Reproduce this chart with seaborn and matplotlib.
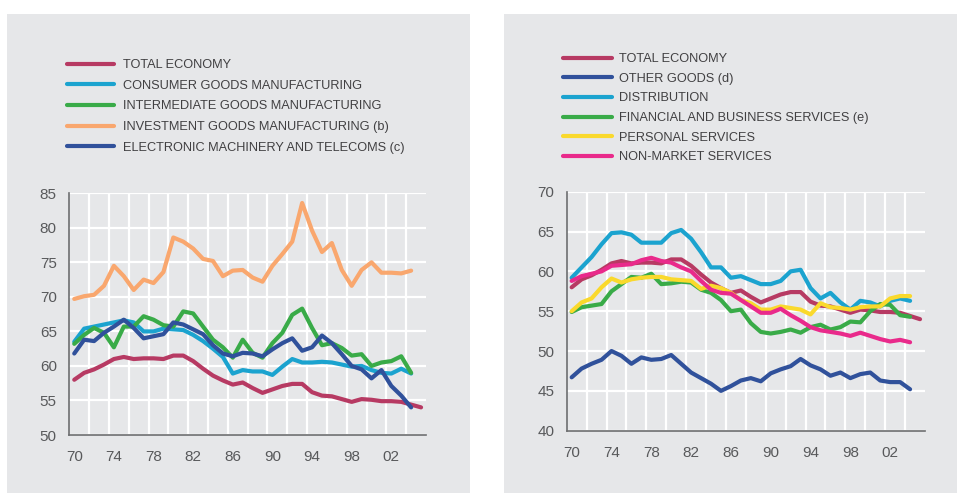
"""
Wage share by sector, 1970-2005: two panels
"""

import numpy as np
import pandas as pd
import matplotlib
matplotlib.use('Agg')
import matplotlib.pyplot as plt
from matplotlib.patches import Rectangle
from matplotlib.ticker import FixedLocator
import seaborn as sns

# years
years_long = list(range(1970, 2006))   # total economy runs to 2005
years = list(range(1970, 2005))

# shared series
total_economy = [58.0, 59.0, 59.5, 60.2, 61.0, 61.3, 61.0, 61.1, 61.1, 61.0,
                 61.5, 61.5, 60.7, 59.6, 58.6, 57.9, 57.3, 57.6, 56.8, 56.1,
                 56.6, 57.1, 57.4, 57.4, 56.2, 55.7, 55.6, 55.2, 54.8, 55.2,
                 55.1, 54.9, 54.9, 54.8, 54.4, 54.0]

# left panel
consumer_goods = [63.5, 65.4, 65.7, 66.0, 66.3, 66.6, 66.3, 65.0, 65.0, 65.4,
                  65.3, 65.2, 64.5, 63.6, 62.5, 61.3, 58.9, 59.4, 59.2, 59.2,
                  58.7, 59.9, 61.0, 60.5, 60.5, 60.6, 60.5, 60.2, 59.9, 60.0,
                  59.4, 59.0, 58.9, 59.6, 58.9]
intermediate_goods = [63.2, 64.5, 65.5, 64.8, 62.7, 65.7, 65.7, 67.2, 66.7, 65.9,
                      65.7, 67.9, 67.6, 65.7, 63.8, 62.7, 61.2, 63.8, 61.9, 61.2,
                      63.3, 64.8, 67.4, 68.3, 65.5, 63.0, 63.3, 62.6, 61.5, 61.7,
                      60.0, 60.5, 60.7, 61.4, 59.0]
investment_goods = [69.7, 70.1, 70.3, 71.6, 74.5, 73.0, 71.0, 72.5, 72.0, 73.6,
                    78.6, 78.0, 77.0, 75.5, 75.2, 73.0, 73.8, 73.9, 72.8, 72.2,
                    74.5, 76.2, 78.0, 83.6, 79.6, 76.5, 77.8, 73.9, 71.6, 73.9,
                    75.0, 73.5, 73.5, 73.4, 73.8]
electronic_machinery = [61.8, 63.8, 63.6, 64.8, 65.7, 66.7, 65.5, 64.0, 64.3, 64.6,
                        66.3, 66.0, 65.3, 64.6, 63.0, 61.8, 61.4, 61.9, 61.8, 61.4,
                        62.4, 63.3, 64.0, 62.2, 62.7, 64.4, 63.3, 61.7, 60.0, 59.5,
                        58.2, 59.4, 57.1, 55.7, 54.0]

# right panel
other_goods = [46.7, 47.8, 48.4, 48.9, 50.0, 49.4, 48.4, 49.2, 48.9, 49.0,
               49.5, 48.4, 47.3, 46.6, 45.9, 45.0, 45.6, 46.3, 46.6, 46.2,
               47.2, 47.7, 48.1, 49.0, 48.2, 47.7, 46.9, 47.3, 46.6, 47.1,
               47.3, 46.3, 46.1, 46.1, 45.2]
distribution = [59.2, 60.5, 61.8, 63.4, 64.8, 64.9, 64.6, 63.6, 63.6, 63.6,
                64.8, 65.2, 64.1, 62.4, 60.5, 60.5, 59.2, 59.4, 58.9, 58.4,
                58.4, 58.8, 60.0, 60.2, 57.9, 56.6, 57.3, 56.1, 55.2, 56.3,
                56.1, 55.6, 56.3, 56.6, 56.3]
financial_services = [54.9, 55.5, 55.7, 55.9, 57.5, 58.4, 59.3, 59.2, 59.7, 58.4,
                      58.5, 58.7, 58.6, 57.7, 57.3, 56.4, 55.0, 55.2, 53.5, 52.4,
                      52.2, 52.4, 52.7, 52.3, 53.0, 53.3, 52.7, 53.0, 53.7, 53.6,
                      55.0, 55.9, 55.8, 54.5, 54.3]
personal_services = [55.0, 56.1, 56.6, 58.0, 59.1, 58.6, 59.0, 59.2, 59.3, 59.3,
                     59.0, 58.9, 58.8, 57.8, 58.2, 57.9, 57.3, 56.4, 56.0, 55.2,
                     55.2, 55.6, 55.4, 55.2, 54.6, 56.0, 55.5, 55.4, 55.2, 55.5,
                     55.6, 55.6, 56.6, 56.9, 56.9]
non_market_services = [58.8, 59.4, 59.7, 60.0, 60.7, 60.8, 60.9, 61.4, 61.7, 61.3,
                       61.1, 60.5, 60.0, 58.8, 57.7, 57.3, 57.2, 56.4, 55.6, 54.8,
                       54.8, 55.3, 54.5, 53.8, 53.0, 52.6, 52.4, 52.2, 51.9, 52.3,
                       51.9, 51.5, 51.2, 51.4, 51.1]

tick_years = list(range(1970, 2003, 4))
tick_labels = ['70', '74', '78', '82', '86', '90', '94', '98', '02']

BG = '#e6e7e9'
C_TOTAL = '#b73a63'
C_LBLUE = '#1ba3cf'
C_GREEN = '#39ab48'
C_ORANGE = '#f9a76e'
C_DBLUE = '#30519b'
C_YELLOW = '#fad92c'
C_PINK = '#e92a8b'

sns.set_theme(style='white')
plt.rcParams['font.family'] = ['Liberation Sans', 'DejaVu Sans']

W, H = 957, 493
fig = plt.figure(figsize=(W / 100, H / 100), dpi=100)
fig.patch.set_facecolor('white')

# grey panels behind each chart
for x0, x1 in [(7, 470), (504, 957)]:
    fig.patches.append(Rectangle((x0 / W, 0), (x1 - x0) / W, 1 - 14 / H,
                                 transform=fig.transFigure, facecolor=BG,
                                 edgecolor='none', zorder=-10))


def px_axes(x0, x1, ytop, ybot):
    return fig.add_axes([x0 / W, 1 - ybot / H, (x1 - x0) / W, (ybot - ytop) / H])


def style_axes(ax, ylim, yticks):
    ax.set_facecolor(BG)
    ax.set_xlim(1969.5, 2005.5)
    ax.set_ylim(*ylim)
    ax.set_yticks(yticks)
    ax.set_xticks(tick_years)
    ax.set_xticklabels(tick_labels)
    ax.xaxis.set_minor_locator(FixedLocator(np.arange(1971.5, 2005, 2)))
    ax.grid(False)
    ax.grid(True, axis='y', which='major', color='white', linewidth=1.6)
    ax.grid(True, axis='x', which='minor', color='white', linewidth=1.6)
    ax.set_axisbelow(True)
    for s in ['top', 'right']:
        ax.spines[s].set_visible(False)
    for s in ['left', 'bottom']:
        ax.spines[s].set_color('#6d6e70')
        ax.spines[s].set_linewidth(1.2)
    ax.tick_params(axis='x', which='both', length=0, pad=11, labelsize=11, labelcolor='#58595b')
    ax.tick_params(axis='y', length=0, pad=9, labelsize=11, labelcolor='#58595b')
    ax.set_xlabel('')
    ax.set_ylabel('')


LW = 3.0

# ---- left panel
ax1 = px_axes(69.3, 426, 193.3, 435)
ax1.set_zorder(5)
left_series = [
    ('TOTAL ECONOMY', years_long, total_economy, C_TOTAL),
    ('CONSUMER GOODS MANUFACTURING', years, consumer_goods, C_LBLUE),
    ('INTERMEDIATE GOODS MANUFACTURING', years, intermediate_goods, C_GREEN),
    ('INVESTMENT GOODS MANUFACTURING (b)', years, investment_goods, C_ORANGE),
    ('ELECTRONIC MACHINERY AND TELECOMS (c)', years, electronic_machinery, C_DBLUE),
]
for label, xs, ys, c in left_series:
    sns.lineplot(x=xs, y=ys, ax=ax1, color=c, linewidth=LW, label=label)
style_axes(ax1, (50, 85), range(50, 86, 5))
h, l = ax1.get_legend_handles_labels()
ax1.get_legend().remove()
fig.legend(h, l, loc='upper left', bbox_to_anchor=(67 / W, 1 - 59 / H),
           frameon=False, fontsize=9.2, borderpad=0, borderaxespad=0,
           handlelength=3.7, handletextpad=0.65, labelspacing=0.68,
           labelcolor='#414042')

# ---- right panel
ax2 = px_axes(566.7, 925, 191.7, 430.7)
ax2.set_zorder(5)
right_series = [
    ('TOTAL ECONOMY', years_long, total_economy, C_TOTAL),
    ('OTHER GOODS (d)', years, other_goods, C_DBLUE),
    ('DISTRIBUTION', years, distribution, C_LBLUE),
    ('FINANCIAL AND BUSINESS SERVICES (e)', years, financial_services, C_GREEN),
    ('PERSONAL SERVICES', years, personal_services, C_YELLOW),
    ('NON-MARKET SERVICES', years, non_market_services, C_PINK),
]
for label, xs, ys, c in right_series:
    sns.lineplot(x=xs, y=ys, ax=ax2, color=c, linewidth=LW, label=label)
style_axes(ax2, (40, 70), range(40, 71, 5))
h, l = ax2.get_legend_handles_labels()
ax2.get_legend().remove()
fig.legend(h, l, loc='upper left', bbox_to_anchor=(563 / W, 1 - 53 / H),
           frameon=False, fontsize=9.2, borderpad=0, borderaxespad=0,
           handlelength=3.8, handletextpad=0.55, labelspacing=0.6,
           labelcolor='#414042')

fig.savefig('out.png', dpi=100, facecolor='white')
